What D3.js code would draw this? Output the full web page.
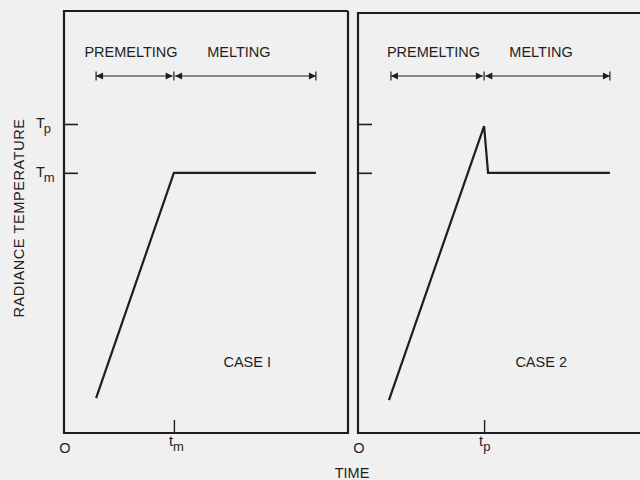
<!DOCTYPE html>
<html>
<head>
<meta charset="utf-8">
<script src="https://cdn.jsdelivr.net/npm/d3@7"></script>
<style>
  html, body { margin: 0; padding: 0; background: #f0f0f0; }
  svg { display: block; }
  text { font-family: "Liberation Sans", Arial, sans-serif; fill: #1e1e1e; }
</style>
</head>
<body>
<svg id="chart" width="640" height="480"></svg>
<script>
// Schematic radiance-temperature curves (time and temperature in relative units, 0-100)
const TM = 61.8;   // melting temperature
const TP = 73.4;   // peak (superheated) temperature

const panels = ["CASE I", "CASE 2"];
const phaseLabels = ["PREMELTING", "MELTING"];

// curve vertices: time values and temperature values per case
const case1Time = [11.3, 38.7, 88.7];
const case1Temp = [8.3, TM, TM];
const case2Time = [10.9, 44.4, 45.8, 88.7];
const case2Temp = [7.8, 72.9, TM, TM];

// phase arrows: start, boundary, end (time)
const case1Phases = [11.3, 38.7, 88.7];
const case2Phases = [11.6, 44.4, 88.7];

// axis marks
const yTickValues = [TM, TP];
const yTickLabels = [["T", "m"], ["T", "p"]];
const xTickValues = [[38.7], [44.4]];
const xTickLabels = [["t", "m"], ["t", "p"]];
const originLabel = "O";

const ARROW_LEVEL = 84.8;   // temperature level at which the phase arrows sit
const LABEL_LEVEL = 90.4;
const FS = 14.5;

const svg = d3.select("#chart");
const ink = "#1e1e1e";

const layout = [
  { left: 64, top: 11, width: 284, bottom: 433 },
  { left: 358, top: 13, width: 284, bottom: 433 }
];

const curves = [
  case1Time.map((t, i) => [t, case1Temp[i]]),
  case2Time.map((t, i) => [t, case2Temp[i]])
];
const phases = [case1Phases, case2Phases];

panels.forEach((name, k) => {
  const L = layout[k];
  const x = d3.scaleLinear().domain([0, 100]).range([L.left, L.left + L.width]);
  const y = d3.scaleLinear().domain([0, 100]).range([L.bottom, 12]);
  const g = svg.append("g");

  // frame
  const right = L.left + L.width;
  g.append("path")
    .attr("d", `M${right},${L.top}H${L.left}V${L.bottom}H${right}` + (k === 0 ? `V${L.top}` : ""))
    .attr("fill", "none").attr("stroke", ink).attr("stroke-width", 2.2);

  // temperature ticks pointing into the frame
  const yAxis = g.append("g")
    .attr("transform", `translate(${L.left},0)`)
    .call(d3.axisRight(y).tickValues(yTickValues).tickSize(14).tickFormat(""));
  yAxis.select(".domain").remove();
  yAxis.selectAll("line").attr("stroke", ink).attr("stroke-width", 1.6);

  // time tick pointing up
  const xAxis = g.append("g")
    .attr("transform", `translate(0,${L.bottom})`)
    .call(d3.axisTop(x).tickValues(xTickValues[k]).tickSize(13).tickFormat(""));
  xAxis.select(".domain").remove();
  xAxis.selectAll("line").attr("stroke", ink).attr("stroke-width", 1.4);

  // origin label
  g.append("text").attr("x", x(0) + 1).attr("y", L.bottom + 20)
    .attr("text-anchor", "middle").attr("font-size", FS).text(originLabel);

  // time tick label with subscript
  const tl = g.append("text").attr("x", x(xTickValues[k][0]) - 5).attr("y", L.bottom + 13)
    .attr("font-size", FS);
  tl.append("tspan").text(xTickLabels[k][0]);
  tl.append("tspan").attr("dy", 5).attr("font-size", 13).text(xTickLabels[k][1]);

  // curve
  g.append("path")
    .datum(curves[k])
    .attr("d", d3.line().x(d => x(d[0])).y(d => y(d[1])))
    .attr("fill", "none").attr("stroke", ink).attr("stroke-width", 2.2)
    .attr("stroke-linejoin", "miter");

  // phase arrows
  const p = phases[k];
  const ay = y(ARROW_LEVEL);
  const ah = 7, aw = 3.6, bar = 4.5;
  [0, 1].forEach(j => {
    const x0 = x(p[j]) + (j === 1 ? 1.2 : 0);
    const x1 = x(p[j + 1]) - (j === 0 ? 1.2 : 0);
    g.append("line").attr("x1", x0).attr("x2", x1).attr("y1", ay).attr("y2", ay)
      .attr("stroke", ink).attr("stroke-width", 1.1);
    // heads
    g.append("path").attr("d", `M${x0},${ay}l${ah},${-aw}v${2 * aw}z`).attr("fill", ink);
    g.append("path").attr("d", `M${x1},${ay}l${-ah},${-aw}v${2 * aw}z`).attr("fill", ink);
  });
  p.forEach(v => {
    g.append("line").attr("x1", x(v)).attr("x2", x(v)).attr("y1", ay - bar).attr("y2", ay + bar)
      .attr("stroke", ink).attr("stroke-width", 1.2);
  });

  // phase labels
  g.append("text").attr("x", (x(p[0]) + x(p[1])) / 2 - 4).attr("y", y(LABEL_LEVEL) + 5)
    .attr("text-anchor", "middle").attr("font-size", FS).text(phaseLabels[0]);
  g.append("text").attr("x", (x(p[1]) + x(p[2])) / 2 - 6).attr("y", y(LABEL_LEVEL) + 5)
    .attr("text-anchor", "middle").attr("font-size", FS).text(phaseLabels[1]);

  // case label
  g.append("text").attr("x", x(64.5)).attr("y", 367)
    .attr("text-anchor", "middle").attr("font-size", FS).text(name);

  // temperature labels on the first panel only
  if (k === 0) {
    yTickValues.forEach((v, i) => {
      const t = g.append("text").attr("x", 36).attr("y", y(v) + 4).attr("font-size", FS);
      t.append("tspan").text(yTickLabels[i][0]);
      t.append("tspan").attr("dy", 5).attr("dx", -1).attr("font-size", 13).text(yTickLabels[i][1]);
    });
  }
});

// axis titles
svg.append("text").attr("x", 352).attr("y", 478)
  .attr("text-anchor", "middle").attr("font-size", FS).text("TIME");
svg.append("text")
  .attr("transform", "translate(24,218) rotate(-90)")
  .attr("text-anchor", "middle").attr("font-size", FS).attr("letter-spacing", 0.6)
  .text("RADIANCE TEMPERATURE");
</script>
</body>
</html>
